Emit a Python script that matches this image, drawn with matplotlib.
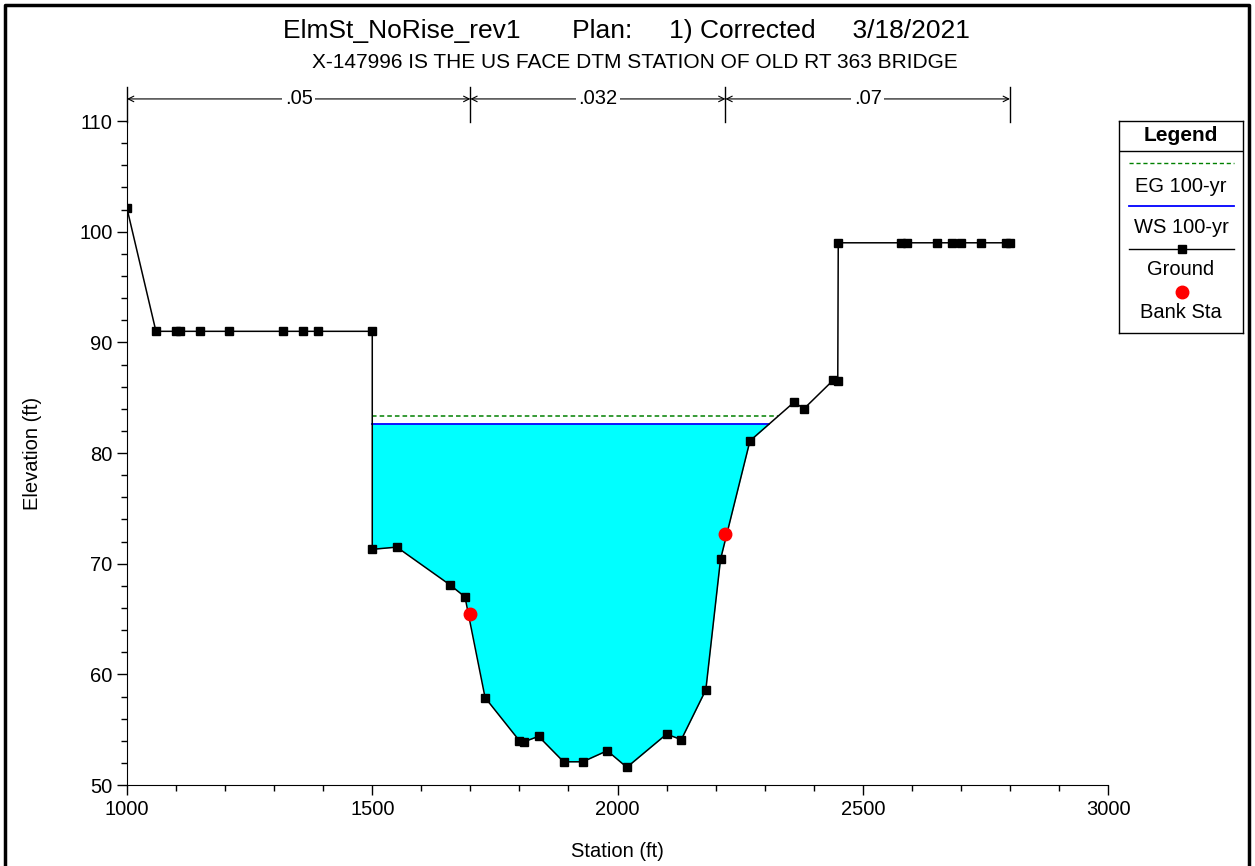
import numpy as np
import matplotlib.pyplot as plt
from matplotlib.ticker import MultipleLocator
from matplotlib.lines import Line2D

plt.rcParams['font.family'] = ['Liberation Sans', 'DejaVu Sans']

# Datos de la seccion transversal
station = [1000, 1059, 1100, 1108, 1149, 1208, 1318, 1359, 1389, 1500,
           1500, 1550, 1658, 1689, 1730, 1800, 1809, 1839, 1890, 1929,
           1979, 2019, 2100, 2130, 2180, 2210, 2270, 2360, 2380, 2440,
           2449, 2450, 2577, 2591, 2651, 2681, 2700, 2741, 2792, 2800]
elevation = [102.1, 91.0, 91.0, 91.0, 91.0, 91.0, 91.0, 91.0, 91.0, 91.0,
             71.3, 71.5, 68.1, 67.0, 57.9, 54.0, 53.9, 54.4, 52.1, 52.1,
             53.1, 51.6, 54.6, 54.1, 58.6, 70.4, 81.1, 84.6, 84.0, 86.6,
             86.5, 99.0, 99.0, 99.0, 99.0, 99.0, 99.0, 99.0, 99.0, 99.0]
bank_sta = [1700, 2220]
bank_elev = [65.5, 72.7]
ws_elev = 82.62
eg_elev = 83.31
n_breaks = [1000, 1700, 2220, 2800]
n_values = ['.05', '.032', '.07']

x = np.array(station, dtype=float)
g = np.array(elevation)


def right_crossing(level, start=1500):
    # punto donde el terreno cruza el nivel a la derecha del cauce
    for i in range(len(x) - 1):
        if x[i] >= start and g[i] < level <= g[i + 1]:
            return x[i] + (level - g[i]) / (g[i + 1] - g[i]) * (x[i + 1] - x[i])
    return x[-1]


fig = plt.figure(figsize=(12.55, 8.66), dpi=100)
ax = fig.add_axes([0.1012, 0.0935, 0.7817, 0.7667])

# Agua
ax.fill_between(x, g, ws_elev, where=(g < ws_elev), interpolate=True,
                color='#00FFFF', linewidth=0, zorder=1)
ax.plot([1500, right_crossing(ws_elev)], [ws_elev, ws_elev], color='blue', lw=1.3, zorder=2)
ax.plot([1500, right_crossing(eg_elev)], [eg_elev, eg_elev], color='green', lw=1.1,
        ls=(0, (3, 2)), zorder=2)

# Terreno y estaciones de orilla
ax.plot(x, g, color='black', lw=1.1, marker='s', ms=6, mfc='black', mec='black', zorder=3)
ax.plot(bank_sta, bank_elev, 'o', color='red', ms=9, mec='red', zorder=4)

ax.set_xlim(1000, 3000)
ax.set_ylim(50, 110)
ax.xaxis.set_major_locator(MultipleLocator(500))
ax.xaxis.set_minor_locator(MultipleLocator(100))
ax.yaxis.set_major_locator(MultipleLocator(10))
ax.yaxis.set_minor_locator(MultipleLocator(2))
ax.tick_params(which='major', length=7, width=1, labelsize=14.5, direction='out')
ax.tick_params(which='minor', length=4, width=1, direction='out')
ax.spines['top'].set_visible(False)
ax.spines['right'].set_visible(False)
ax.set_xlabel('Station (ft)', fontsize=14.5)
ax.set_ylabel('Elevation (ft)', fontsize=14.5)
ax.xaxis.set_label_coords(0.5, -0.086)
ax.yaxis.set_label_coords(-0.087, 0.5)

# Cotas de Manning
y_arr = 112.0
for b in n_breaks:
    ax.plot([b, b], [109.9, 113.1], color='black', lw=1, clip_on=False)
for i, n in enumerate(n_values):
    a, b = n_breaks[i], n_breaks[i + 1]
    ax.annotate('', xy=(a, y_arr), xytext=(b, y_arr), annotation_clip=False,
                arrowprops=dict(arrowstyle='<->', lw=0.8, color='black', shrinkA=0, shrinkB=0))
    ax.text((a + b) / 2, y_arr, n, ha='center', va='center', fontsize=14.5,
            bbox=dict(facecolor='white', edgecolor='none', pad=2), clip_on=False)

# Titulos
fig.text(0.499, 0.964, 'ElmSt_NoRise_rev1       Plan:     1) Corrected     3/18/2021',
         ha='center', va='center', fontsize=19)
fig.text(0.506, 0.928, 'X-147996 IS THE US FACE DTM STATION OF OLD RT 363 BRIDGE',
         ha='center', va='center', fontsize=15)

# Leyenda dibujada a mano
lg = fig.add_axes([1119 / 1255, 1 - 333 / 866, 124 / 1255, 212 / 866])
lg.set_xlim(0, 124)
lg.set_ylim(212, 0)
lg.set_xticks([])
lg.set_yticks([])
for s in lg.spines.values():
    s.set_linewidth(1)
lg.axhline(30, color='black', lw=1)
lg.text(62, 14, 'Legend', ha='center', va='center', fontsize=15, fontweight='bold')
lg.add_line(Line2D([10, 115], [42, 42], color='green', lw=1, ls=(0, (3, 2))))
lg.text(62, 65, 'EG 100-yr', ha='center', va='center', fontsize=14.5)
lg.add_line(Line2D([10, 115], [85, 85], color='blue', lw=1.3))
lg.text(62, 106, 'WS 100-yr', ha='center', va='center', fontsize=14.5)
lg.add_line(Line2D([10, 115], [128, 128], color='black', lw=1))
lg.plot([63], [128], 's', color='black', ms=6)
lg.text(62, 148, 'Ground', ha='center', va='center', fontsize=14.5)
lg.plot([63], [171], 'o', color='red', ms=9)
lg.text(62, 191, 'Bank Sta', ha='center', va='center', fontsize=14.5)

# Marco exterior
fig.add_artist(Line2D([0.004, 0.004, 0.9955, 0.9955], [0.0, 0.994, 0.994, 0.0],
                      transform=fig.transFigure, color='black', lw=2.5))

fig.savefig('out.png', dpi=100)
